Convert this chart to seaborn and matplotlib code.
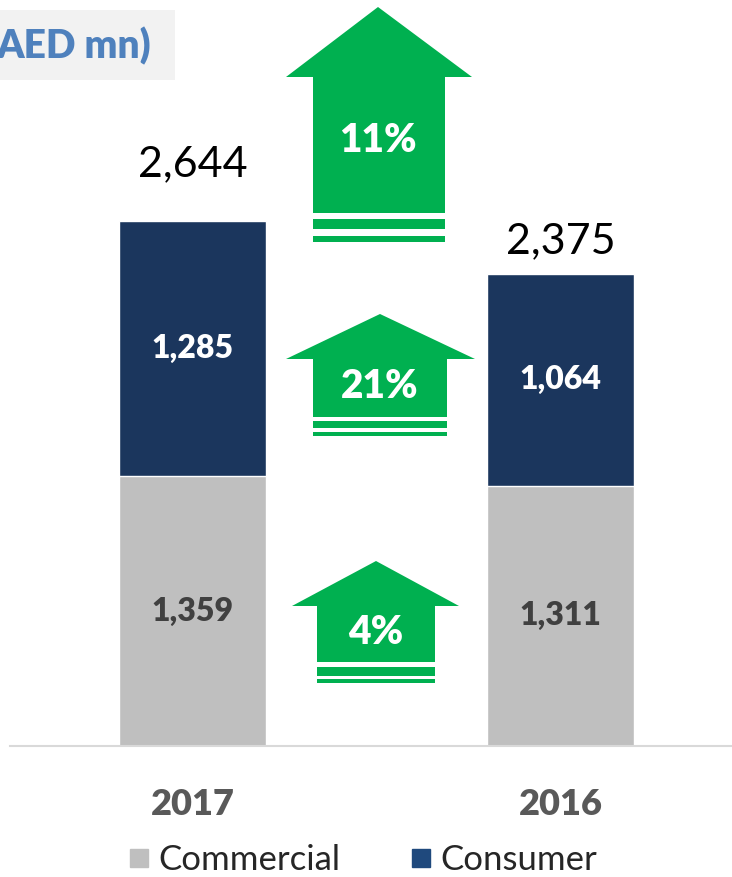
import numpy as np
import pandas as pd
import matplotlib.pyplot as plt
import seaborn as sns
from matplotlib.patches import Polygon, Rectangle
from matplotlib.lines import Line2D

years = ["2017", "2016"]
commercial = [1359, 1311]
consumer = [1285, 1064]
totals = [2644, 2375]
growth = ["11%", "21%", "4%"]

W, H = 732, 877
GREY = "#BFBFBF"
NAVY = "#1B365D"
GREEN = "#00B050"
BOLD = "heavy"

sns.set_style("white")
plt.rcParams['font.family'] = ['Lato', 'DejaVu Sans']

df = pd.DataFrame({"year": years, "commercial": commercial,
                   "consumer": consumer, "total": totals})

fig = plt.figure(figsize=(W / 100, H / 100), dpi=100)
ax = fig.add_axes([10 / W, (H - 746) / H, 722 / W, 746 / H])

# stacked bars: total in navy, commercial drawn over it
sns.barplot(data=df, x="year", y="total", color=NAVY, width=0.4,
            saturation=1, ax=ax)
sns.barplot(data=df, x="year", y="commercial", color=GREY, width=0.4,
            saturation=1, ax=ax)

ax.set_ylim(0, 3756)
ax.set_xlim(-0.496, 1.466)
ax.set_xlabel("")
ax.set_ylabel("")
ax.set_yticks([])
for s in ["top", "right", "left"]:
    ax.spines[s].set_visible(False)
ax.spines["bottom"].set_color("#D9D9D9")
ax.spines["bottom"].set_linewidth(1.5)
ax.tick_params(axis="x", length=0, pad=30)
for t in ax.get_xticklabels():
    t.set_fontsize(26)
    t.set_fontweight(BOLD)
    t.set_color("#595959")

# segment labels
top_offsets = [41, 24]
for i in range(len(years)):
    ax.text(i, commercial[i] / 2, f"{commercial[i]:,}", ha="center", va="center",
            fontsize=23, fontweight=BOLD, color="#404040")
    ax.text(i, commercial[i] + consumer[i] / 2, f"{consumer[i]:,}", ha="center",
            va="center", fontsize=23, fontweight=BOLD, color="white")
    ax.annotate(f"{totals[i]:,}", (i, totals[i]), xytext=(0, top_offsets[i]),
                textcoords="offset points", ha="center", va="center",
                fontsize=31, color="black")


def fx(x, y):
    return (x / W, (H - y) / H)


def arrow(xc, apex, head_base, head_l, head_r, sh_l, sh_r, sh_bot, stripes,
          label, label_y):
    pts = [fx(xc, apex), fx(head_r, head_base), fx(sh_r, head_base),
           fx(sh_r, sh_bot), fx(sh_l, sh_bot), fx(sh_l, head_base),
           fx(head_l, head_base)]
    fig.patches.append(Polygon(pts, closed=True, transform=fig.transFigure,
                               facecolor=GREEN, edgecolor="none"))
    for y0, y1 in stripes:
        x0, yy = fx(sh_l, y1)
        fig.patches.append(Rectangle((x0, yy), (sh_r - sh_l) / W, (y1 - y0) / H,
                                     transform=fig.transFigure,
                                     facecolor=GREEN, edgecolor="none"))
    tx, ty = fx(xc, label_y)
    fig.text(tx, ty, label, ha="center", va="center", fontsize=28,
             fontweight=BOLD, color="white")


arrow(378, 7, 77, 286, 472, 313, 445, 213, [(219, 229), (236, 242)], growth[0], 140)
arrow(380, 314, 359, 286, 475, 313, 447, 417, [(421, 428), (432, 436)], growth[1], 386)
arrow(376, 561, 606, 292, 459, 317, 435, 662, [(667, 676), (679, 683)], growth[2], 633)

# title box (cut off at the left edge)
fig.patches.append(Rectangle(fx(0, 80), 175 / W, 70 / H, transform=fig.transFigure,
                             facecolor="#F2F2F2", edgecolor="none"))
tx, ty = fx(151, 46)
fig.text(tx, ty, "AED mn)", ha="right", va="center", fontsize=28,
         fontweight=BOLD, color="#4F81BD")

handles = [Line2D([], [], marker="s", linestyle="none", markersize=13,
                  markerfacecolor=GREY, markeredgecolor=GREY),
           Line2D([], [], marker="s", linestyle="none", markersize=13,
                  markerfacecolor="#1F497D", markeredgecolor="#1F497D")]
lx, ly = fx(362, 860)
fig.legend(handles, ["Commercial", "Consumer"], loc="center", bbox_to_anchor=(lx, ly),
           ncol=2, frameon=False, fontsize=25, handletextpad=0.2, columnspacing=2.0,
           handlelength=0.7)

fig.savefig("out.png", dpi=100)
